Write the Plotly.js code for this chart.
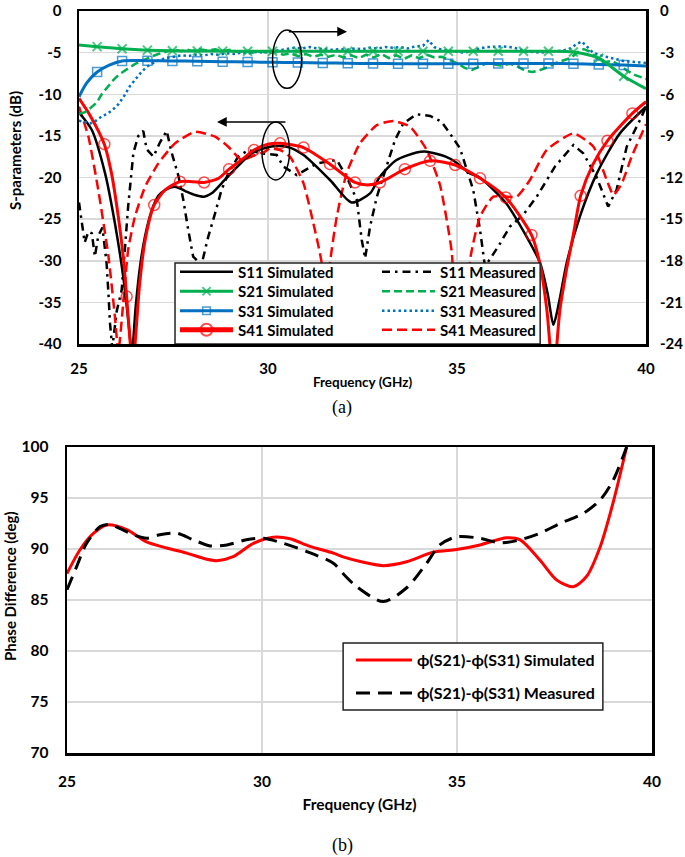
<!DOCTYPE html>
<html><head><meta charset="utf-8">
<script src="https://cdn.plot.ly/plotly-3.0.1.min.js"></script>
<style>html,body{margin:0;padding:0;background:#fff}#chart{width:685px;height:857px}</style>
</head><body><div id="chart"></div>
<script>
// ---------------- DATA ----------------
// Top chart (a): frequency in GHz, S11/S41 on left axis (dB), S21/S31 on right axis (dB)
const s11SimF = [25.00,25.34,25.69,25.95,26.17,26.30,26.40,26.50,26.62,26.75,26.92,27.10,27.28,27.54,27.80,28.07,28.31,28.51,28.77,29.04,29.57,30.05,30.50,30.94,31.64,32.21,32.70,32.96,33.40,33.93,34.20,34.70,34.95,35.34,35.60,36.30,36.84,37.20,37.40,37.55,37.70,37.90,38.25,38.70,39.31,40.00];
const s11SimV = [-12.2,-14.3,-19.5,-25.5,-31.9,-37.0,-41.0,-35.5,-30.5,-27.0,-24.0,-22.2,-21.5,-21.1,-21.6,-22.1,-22.3,-21.9,-20.7,-19.4,-17.1,-16.3,-16.3,-17.3,-20.3,-23.0,-21.9,-19.9,-17.9,-17.0,-16.9,-17.5,-18.1,-19.5,-20.0,-23.1,-27.1,-30.3,-34.0,-37.7,-35.0,-30.3,-24.7,-19.5,-14.7,-11.5];

const s41SimF = [25.00,25.30,25.67,25.86,26.04,26.17,26.26,26.34,26.42,26.50,26.60,26.75,26.99,27.28,27.67,28.00,28.31,28.69,28.97,29.30,29.63,30.00,30.32,30.94,31.64,32.30,32.63,32.96,33.62,34.29,34.95,35.61,36.29,36.97,37.20,37.38,37.55,37.72,37.90,38.08,38.27,38.60,38.98,39.64,40.00];
const s41SimV = [-10.5,-12.6,-16.0,-19.5,-24.7,-29.5,-34.3,-39.0,-43.0,-39.0,-33.0,-27.5,-23.3,-21.5,-20.5,-20.5,-20.6,-20.1,-19.0,-17.9,-16.7,-16.0,-15.9,-16.4,-18.4,-20.6,-20.9,-20.6,-19.0,-18.0,-18.5,-20.1,-22.4,-26.9,-30.5,-36.0,-44.0,-36.0,-31.0,-26.8,-22.2,-18.4,-15.6,-12.3,-10.9];
const s41SimMarkF = [25.67,26.26,26.99,27.67,28.31,28.97,29.63,30.32,30.94,31.64,32.30,32.96,33.62,34.29,34.95,35.61,36.29,36.97,38.27,38.98,39.64];

const s21SimF = [25.00,25.48,26.14,26.81,27.47,28.13,28.80,29.46,30.12,30.79,31.45,32.11,32.78,33.44,34.10,34.77,35.43,36.09,36.76,37.42,38.08,38.75,39.41,40.00];
const s21SimV = [-2.45,-2.57,-2.72,-2.82,-2.87,-2.88,-2.89,-2.90,-2.90,-2.90,-2.90,-2.90,-2.90,-2.90,-2.90,-2.90,-2.90,-2.90,-2.90,-2.90,-2.95,-3.40,-4.70,-5.60];

const s31SimF = [25.00,25.20,25.48,25.80,26.14,26.81,27.47,28.13,28.80,29.46,30.12,30.79,31.45,32.11,32.78,33.44,34.10,34.77,35.43,36.09,36.76,37.42,38.08,38.75,39.41,40.00];
const s31SimV = [-6.18,-5.20,-4.40,-3.90,-3.60,-3.58,-3.60,-3.62,-3.65,-3.67,-3.70,-3.72,-3.74,-3.77,-3.78,-3.80,-3.80,-3.80,-3.80,-3.78,-3.78,-3.78,-3.80,-3.85,-3.90,-3.97];
const s2131MarkF = [25.48,26.14,26.81,27.47,28.13,28.80,29.46,30.12,30.79,31.45,32.11,32.78,33.44,34.10,34.77,35.43,36.09,36.76,37.42,38.08,38.75,39.41];

const s11MeasF = [25.00,25.07,25.15,25.25,25.34,25.42,25.51,25.62,25.73,25.78,25.82,25.88,25.95,26.00,26.13,26.22,26.30,26.44,26.57,26.70,26.79,26.97,27.14,27.32,27.45,27.63,27.76,27.89,28.02,28.24,28.42,28.60,28.77,28.95,29.21,29.48,29.83,30.23,30.41,30.76,31.29,31.82,32.08,32.35,32.48,32.57,32.70,32.88,33.10,33.36,33.58,33.93,34.29,34.59,34.81,35.08,35.43,35.61,35.74,36.09,36.40,36.75,37.11,37.37,37.59,38.08,38.34,38.69,39.00,39.22,39.49,39.84,40.00];
const s11MeasV = [-23.0,-25.0,-27.8,-26.5,-26.7,-29.5,-27.0,-26.0,-30.3,-34.0,-37.5,-40.5,-38.0,-36.0,-33.5,-28.3,-23.5,-17.0,-15.0,-14.4,-16.6,-17.5,-15.8,-14.4,-17.0,-19.8,-22.7,-26.3,-29.5,-30.5,-27.1,-24.3,-21.5,-19.5,-17.5,-16.7,-17.1,-17.3,-18.7,-19.7,-18.3,-17.9,-19.9,-22.7,-27.5,-29.7,-25.9,-22.3,-19.1,-15.5,-13.5,-12.4,-12.6,-13.3,-14.7,-16.5,-21.5,-26.3,-30.7,-28.3,-25.9,-24.5,-22.3,-20.3,-18.7,-16.1,-17.1,-19.9,-23.5,-21.5,-16.3,-13.1,-11.5];

const s41MeasF = [25.00,25.25,25.51,25.78,25.95,26.04,26.17,26.30,26.48,26.75,27.10,27.54,28.07,28.60,28.95,29.30,29.66,29.92,30.05,30.32,30.58,30.94,31.20,31.42,31.50,31.64,31.82,32.08,32.43,32.88,33.32,33.76,34.20,34.55,34.86,35.02,35.20,35.36,35.61,35.96,36.58,36.93,37.37,38.08,38.61,38.96,39.14,39.36,39.62,39.93,40.00];
const s41MeasV = [-11.5,-15.1,-21.5,-29.5,-36.7,-41.0,-35.1,-28.7,-24.7,-21.1,-18.3,-15.9,-14.5,-15.1,-16.3,-17.9,-17.3,-16.9,-16.5,-16.7,-17.5,-20.7,-25.5,-30.3,-41.0,-30.3,-24.7,-19.5,-15.9,-13.7,-13.2,-13.9,-16.7,-20.9,-28.9,-41.0,-39.5,-29.5,-24.7,-22.3,-22.3,-20.3,-16.7,-14.7,-16.3,-20.3,-22.1,-20.7,-17.5,-14.3,-13.6];

const s21MeasF = [25.00,25.15,25.30,25.47,25.60,25.75,25.90,26.05,26.20,26.35,26.50,26.65,26.80,26.95,27.10,27.25,27.40,27.55,27.70,27.85,28.00,28.20,28.40,28.60,28.80,29.00,29.20,29.40,29.60,29.80,30.00,30.20,30.40,30.60,30.80,31.00,31.20,31.40,31.60,31.80,32.00,32.20,32.40,32.60,32.80,33.00,33.20,33.40,33.60,33.80,34.00,34.20,34.40,34.60,34.80,35.00,35.20,35.40,35.60,35.80,36.00,36.20,36.40,36.60,36.80,37.00,37.20,37.40,37.60,37.80,38.00,38.20,38.35,38.50,38.70,38.90,39.10,39.30,39.50,39.70,39.85,40.00];
const s21MeasV = [-7.4,-7.3,-7.0,-6.6,-6.0,-5.5,-5.0,-4.6,-4.3,-4.05,-3.8,-3.6,-3.45,-3.25,-3.1,-2.95,-2.85,-2.8,-2.9,-2.78,-2.88,-2.75,-2.85,-2.75,-2.9,-2.8,-2.95,-2.85,-3.0,-2.9,-3.05,-2.95,-3.15,-3.05,-3.25,-3.1,-3.3,-3.15,-3.3,-3.15,-3.35,-3.2,-3.4,-3.15,-3.35,-3.1,-3.4,-3.2,-3.45,-3.2,-3.4,-3.15,-3.35,-3.3,-3.55,-3.75,-4.1,-4.25,-4.0,-3.75,-3.85,-3.95,-3.8,-4.0,-4.3,-4.4,-4.25,-4.05,-3.75,-3.6,-3.4,-2.95,-2.75,-2.9,-3.4,-3.7,-3.6,-3.9,-4.3,-4.6,-4.75,-4.9];

const s31MeasF = [25.00,25.15,25.30,25.45,25.60,25.75,25.90,26.05,26.20,26.35,26.50,26.65,26.80,26.95,27.10,27.30,27.50,27.70,27.90,28.10,28.30,28.50,28.70,28.90,29.10,29.30,29.50,29.70,29.90,30.10,30.30,30.50,30.70,30.90,31.10,31.30,31.50,31.70,31.90,32.10,32.30,32.50,32.70,32.90,33.10,33.30,33.50,33.70,33.90,34.10,34.25,34.40,34.60,34.80,35.00,35.20,35.40,35.60,35.80,36.00,36.20,36.40,36.60,36.80,37.00,37.20,37.40,37.60,37.80,38.00,38.15,38.30,38.45,38.60,38.80,39.00,39.20,39.40,39.60,39.80,40.00];
const s31MeasV = [-7.9,-8.0,-8.1,-7.9,-7.6,-7.4,-7.1,-6.7,-6.1,-5.4,-4.9,-4.4,-4.0,-3.75,-3.55,-3.4,-3.3,-3.2,-3.25,-3.15,-3.2,-3.1,-3.15,-3.05,-3.1,-3.0,-3.05,-2.95,-3.0,-2.9,-2.8,-2.75,-2.65,-2.7,-2.6,-2.7,-2.75,-2.8,-2.75,-2.8,-2.7,-2.75,-2.65,-2.7,-2.6,-2.65,-2.6,-2.7,-2.55,-2.5,-2.1,-2.6,-2.8,-2.85,-2.95,-3.0,-2.9,-2.7,-2.6,-2.55,-2.55,-2.6,-2.7,-2.9,-2.95,-3.0,-2.95,-2.9,-2.85,-2.7,-2.4,-2.2,-2.6,-3.0,-3.2,-3.35,-3.5,-3.6,-3.65,-3.7,-3.75];

// Bottom chart (b): phase difference in degrees
const phSimF = [25.00,25.33,25.67,26.02,26.53,27.04,27.56,28.07,28.58,28.84,29.26,29.78,30.29,30.72,31.23,31.83,32.10,32.60,33.11,33.71,34.40,34.99,35.59,36.27,36.62,37.13,37.56,37.98,38.32,38.67,39.00,39.35];
const phSimV = [87.6,89.9,91.5,92.35,91.9,90.7,90.1,89.6,89.0,88.85,89.25,90.55,91.15,91.0,90.25,89.6,89.2,88.7,88.37,88.75,89.7,89.95,90.4,91.1,90.9,88.9,86.95,86.3,87.3,90.2,94.5,100.0];
const phMeasF = [25.00,25.25,25.50,25.85,26.10,26.70,27.04,27.38,27.81,28.24,28.67,29.10,29.60,30.03,30.55,31.15,31.83,32.10,32.43,33.11,33.71,34.22,34.56,34.99,35.59,36.10,36.62,37.13,37.64,38.24,38.67,39.00,39.35];
const phMeasV = [86.0,88.3,90.55,92.2,92.4,91.4,91.05,91.4,91.55,90.9,90.3,90.4,90.9,91.05,90.55,89.75,88.6,87.5,86.3,84.85,86.2,88.6,90.4,91.2,91.05,90.6,90.9,91.55,92.5,93.5,94.8,96.7,100.0];

// Ticks
const freqTicks = [25,30,35,40];
const sLeftTicks = [0,-5,-10,-15,-20,-25,-30,-35,-40];
const sRightTicks = [0,-3,-6,-9,-12,-15,-18,-21,-24];
const phTicks = [70,75,80,85,90,95,100];

// Names and titles
const names = {
  s11s:'S11 Simulated', s21s:'S21 Simulated', s31s:'S31 Simulated', s41s:'S41 Simulated',
  s11m:'S11 Measured', s21m:'S21 Measured', s31m:'S31 Measured', s41m:'S41 Measured',
  phs:'ϕ(S21)-ϕ(S31) Simulated', phm:'ϕ(S21)-ϕ(S31) Measured'
};
const titles = {freq:'Frequency (GHz)', sp:'S-parameters (dB)', ph:'Phase Difference (deg)', a:'(a)', b:'(b)'};

// ---------------- STYLE ----------------
const FONT = 'Lato, "Open Sans", "DejaVu Sans", sans-serif';
const SERIF = '"Liberation Serif", "DejaVu Serif", serif';
const GREEN = '#00B050', BLUE = '#0070C0', RED = '#FF0000', BLACK = '#000000';
const W = 685, H = 857;
const px = v => v / W, py = v => 1 - v / H;
const markSizes = (f, mk, s) => f.map(v => mk.indexOf(v) >= 0 ? s : 0);

const traces = [
  {x:s11MeasF, y:s11MeasV, name:names.s11m, legend:'legend5', showlegend:true, mode:'lines', xaxis:'x', yaxis:'y',
   line:{color:BLACK, width:2.5, dash:'8px,5px,2.5px,5px'}},
  {x:s41MeasF, y:s41MeasV, name:names.s41m, legend:'legend8', showlegend:true, mode:'lines', xaxis:'x', yaxis:'y',
   line:{color:RED, width:2.5, dash:'10px,5px', shape:'spline', smoothing:0.5}},
  {x:s11SimF, y:s11SimV, name:names.s11s, legend:'legend', showlegend:true, mode:'lines', xaxis:'x', yaxis:'y',
   line:{color:BLACK, width:2.5, shape:'spline', smoothing:0.7}},
  {x:s41SimF, y:s41SimV, name:names.s41s, legend:'legend4', showlegend:true, mode:'lines+markers', xaxis:'x', yaxis:'y',
   line:{color:RED, width:3, shape:'spline', smoothing:0.7},
   marker:{symbol:'circle-open', size:markSizes(s41SimF, s41SimMarkF, 11), color:RED, line:{color:RED, width:1.5}}},
  {x:s21MeasF, y:s21MeasV, name:names.s21m, legend:'legend6', showlegend:true, mode:'lines', xaxis:'x', yaxis:'y2',
   line:{color:GREEN, width:2.5, dash:'8px,4px'}},
  {x:s31MeasF, y:s31MeasV, name:names.s31m, legend:'legend7', showlegend:true, mode:'lines', xaxis:'x', yaxis:'y2',
   line:{color:BLUE, width:2.5, dash:'2.5px,3px'}},
  {x:s31SimF, y:s31SimV, name:names.s31s, legend:'legend3', showlegend:true, mode:'lines+markers', xaxis:'x', yaxis:'y2',
   line:{color:BLUE, width:3, shape:'spline', smoothing:0.7},
   marker:{symbol:'square-open', size:markSizes(s31SimF, s2131MarkF, 9), color:BLUE, line:{color:BLUE, width:1.5}}},
  {x:s21SimF, y:s21SimV, name:names.s21s, legend:'legend2', showlegend:true, mode:'lines+markers', xaxis:'x', yaxis:'y2',
   line:{color:GREEN, width:3, shape:'spline', smoothing:0.7},
   marker:{symbol:'x-thin-open', size:markSizes(s21SimF, s2131MarkF, 9), color:GREEN, line:{color:GREEN, width:2}}},
  {x:phSimF, y:phSimV, name:names.phs, legend:'legend9', showlegend:true, mode:'lines', xaxis:'x2', yaxis:'y3',
   line:{color:RED, width:3, shape:'spline', smoothing:0.8}},
  {x:phMeasF, y:phMeasV, name:names.phm, legend:'legend10', showlegend:true, mode:'lines', xaxis:'x2', yaxis:'y3',
   line:{color:BLACK, width:3, dash:'14px,8px', shape:'spline', smoothing:0.8}}
];

function leg(xp, yp, iw, fs, sizing) {
  return {visible:true, x:px(xp), y:py(yp), xanchor:'left', yanchor:'middle', bgcolor:'rgba(0,0,0,0)',
    borderwidth:0, itemwidth:iw, itemsizing:sizing || 'trace',
    font:{family:FONT, size:fs, weight:'bold', color:BLACK}};
}

const tickFont = {family:FONT, size:15, weight:'bold', color:BLACK};
const tickFontB = {family:FONT, size:15.5, weight:'bold', color:BLACK};
const axBase = {showline:true, linecolor:BLACK, linewidth:2.5, mirror:true, ticks:'',
  showgrid:true, gridcolor:'#d9d9d9', gridwidth:1.5, zeroline:false, tickfont:tickFont, tickmode:'array'};
const txt = a => a.map(v => String(v));

const layout = {
  width:W, height:H, margin:{l:0, r:0, t:0, b:0, autoexpand:false},
  paper_bgcolor:'#fff', plot_bgcolor:'#fff', showlegend:true,
  font:{family:FONT, color:BLACK},
  xaxis:Object.assign({}, axBase, {domain:[px(79), px(646)], anchor:'y', range:[25,40],
    tickvals:freqTicks, ticktext:txt(freqTicks), ticklabelstandoff:9,
    title:{text:titles.freq, font:{family:FONT, size:13.5, weight:'bold'}, standoff:2}}),
  yaxis:Object.assign({}, axBase, {domain:[py(344), py(11)], anchor:'x', range:[-40,0],
    tickvals:sLeftTicks, ticktext:txt(sLeftTicks), ticklabelstandoff:12}),
  yaxis2:Object.assign({}, axBase, {overlaying:'y', side:'right', anchor:'x', range:[-24,0],
    showline:false, showgrid:false, tickvals:sRightTicks, ticktext:txt(sRightTicks), ticklabelstandoff:13}),
  xaxis2:Object.assign({}, axBase, {domain:[px(67), px(652)], anchor:'y3', range:[25,40], tickfont:tickFontB,
    tickvals:freqTicks, ticktext:txt(freqTicks), ticklabelstandoff:13,
    title:{text:titles.freq, font:{family:FONT, size:15.5, weight:'bold'}, standoff:10}}),
  yaxis3:Object.assign({}, axBase, {domain:[py(753), py(447)], anchor:'x2', range:[70,100], tickfont:tickFontB,
    tickvals:phTicks, ticktext:txt(phTicks), ticklabelstandoff:13}),
  legend: leg(175, 272, 53, 15),
  legend2: leg(175, 291.5, 53, 15),
  legend3: leg(175, 311, 53, 15),
  legend4: leg(175, 330, 53, 15, 'constant'),
  legend5: leg(377, 272, 53, 15),
  legend6: leg(377, 291.5, 53, 15),
  legend7: leg(377, 311, 53, 15),
  legend8: leg(377, 330, 53, 15),
  legend9: leg(351, 660, 56, 16),
  legend10: leg(351, 693, 56, 16),
  shapes:[
    {type:'rect', xref:'x', yref:'y', x0:27.54, x1:37.2, y0:-40, y1:-30.27, fillcolor:'#fff', line:{color:'#222', width:1.5}, layer:'above'},
    {type:'rect', xref:'x2', yref:'y3', x0:32.08, x1:38.74, y0:74.22, y1:80.78, fillcolor:'#fff', line:{color:'#222', width:1.5}, layer:'above'},
    {type:'circle', xref:'x', yref:'y', x0:30.12, x1:30.89, y0:-2.28, y1:-9.29, line:{color:BLACK, width:1.5}},
    {type:'circle', xref:'x', yref:'y', x0:29.84, x1:30.57, y0:-13.33, y1:-20.3, line:{color:BLACK, width:1.5}}
  ],
  annotations:[
    {xref:'x', yref:'y', axref:'x', ayref:'y', x:32.09, y:-2.49, ax:30.51, ay:-2.49, text:'', showarrow:true,
     arrowhead:2, arrowsize:1.3, arrowwidth:1.5, arrowcolor:BLACK, standoff:0, startstandoff:0},
    {xref:'x', yref:'y', axref:'x', ayref:'y', x:28.65, y:-13.33, ax:30.5, ay:-13.33, text:'', showarrow:true,
     arrowhead:2, arrowsize:1.3, arrowwidth:1.5, arrowcolor:BLACK, standoff:0, startstandoff:0},
    {xref:'paper', yref:'paper', x:px(15), y:py(151), text:titles.sp, textangle:-90, showarrow:false,
     xanchor:'center', yanchor:'middle', font:{family:FONT, size:15, weight:'bold', color:BLACK}},
    {xref:'paper', yref:'paper', x:px(10), y:py(586), text:titles.ph, textangle:-90, showarrow:false,
     xanchor:'center', yanchor:'middle', font:{family:FONT, size:15, weight:'bold', color:BLACK}},
    {xref:'paper', yref:'paper', x:px(342), y:py(407), text:titles.a, showarrow:false, xanchor:'center', yanchor:'middle',
     font:{family:SERIF, size:18, color:BLACK}},
    {xref:'paper', yref:'paper', x:px(342), y:py(845), text:titles.b, showarrow:false, xanchor:'center', yanchor:'middle',
     font:{family:SERIF, size:18, color:BLACK}}
  ]
};

Plotly.newPlot('chart', traces, layout, {displayModeBar:false, responsive:false, staticPlot:true});
</script></body></html>
